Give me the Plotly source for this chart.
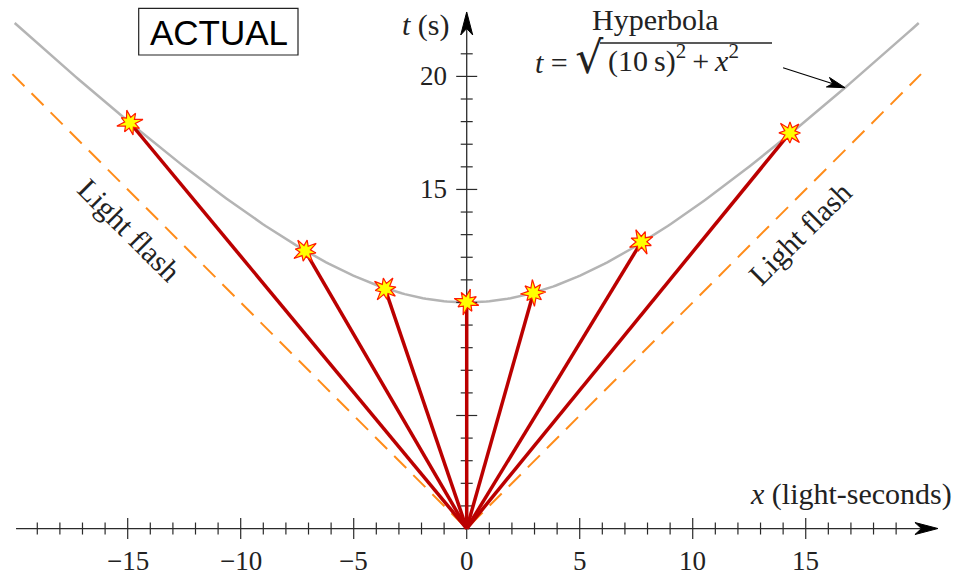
import numpy as np
import plotly.graph_objects as go

# ---------------- data ----------------
star_x = [-14.9, -7.15, -3.61, 0.0, 2.95, 7.73, 14.3]
star_t = [17.95, 12.28, 10.6, 10.02, 10.42, 12.68, 17.5]
hyp_t0 = 10.0                      # (10 s) in t = sqrt((10 s)^2 + x^2)
hyp_x_min, hyp_x_max = -20.0, 20.0
flash_x = [-20.1, 0.0, 20.1]
flash_t = [20.1, 0.0, 20.1]
x_tick_vals = list(range(-19, 20))
t_tick_vals = list(range(1, 22))
x_label_vals = [-15, -10, -5, 0, 5, 10, 15]
x_label_text = ["\u221215", "\u221210", "\u22125", "0", "5", "10", "15"]
t_label_vals = [15, 20]
t_label_text = ["15", "20"]
pointer_x = 16.74                  # where the "Hyperbola" arrow touches the curve

# ---------------- geometry helpers ----------------
W, H = 961, 576
XR = [-20.65, 21.87]
YR = [-2.10, 23.38]
PX = W / (XR[1] - XR[0])           # pixels per unit (equal in x and t)


def p(v):
    return v / PX


def arrow_head(tx, ty, dx, dy, L, Wd):
    nx, ny = -dy, dx
    pts = [(0, 0), (-L, Wd / 2), (-0.72 * L, 0), (-L, -Wd / 2), (0, 0)]
    xs = [tx + p(a * dx + b * nx) for a, b in pts]
    ys = [ty + p(a * dy + b * ny) for a, b in pts]
    return xs, ys


def px_x(v):
    return v / W


def px_y(v):
    return 1 - v / H


fig = go.Figure()
AX = "#2b2b2b"
SERIF = "Liberation Serif"
TXT = "#222222"

# light flash lines
fig.add_trace(go.Scatter(x=flash_x, y=flash_t, mode="lines",
                         line=dict(color="#ff8c1a", width=2, dash="17px,10px"),
                         hoverinfo="skip"))

# hyperbola
hx = np.linspace(hyp_x_min, hyp_x_max, 300)
ht = np.sqrt(hyp_t0 ** 2 + hx ** 2)
fig.add_trace(go.Scatter(x=hx, y=ht, mode="lines",
                         line=dict(color="#b4b4b4", width=2.5), hoverinfo="skip"))

# axes lines
x_axis_end = 20.85
t_axis_end = 22.85
fig.add_trace(go.Scatter(x=[-19.94, x_axis_end - p(16), None, 0, 0],
                         y=[0, 0, None, 0, t_axis_end - p(16)],
                         mode="lines", line=dict(color=AX, width=1.3), hoverinfo="skip"))

# ticks
tx, ty = [], []
for v in x_tick_vals:
    h = p(10.5) if v % 5 == 0 else p(6)
    tx += [v, v, None]
    ty += [-h, h, None]
for v in t_tick_vals:
    h = p(10.5) if v % 5 == 0 else p(6)
    tx += [-h, h, None]
    ty += [v, v, None]
fig.add_trace(go.Scatter(x=tx, y=ty, mode="lines",
                         line=dict(color=AX, width=1.2), hoverinfo="skip"))

# arrow heads of axes
for (hx_, hy_) in [arrow_head(x_axis_end, 0, 1, 0, 23, 12),
                   arrow_head(0, t_axis_end, 0, 1, 23, 12)]:
    fig.add_trace(go.Scatter(x=hx_, y=hy_, mode="lines", fill="toself",
                             fillcolor="black", line=dict(color="black", width=1),
                             hoverinfo="skip"))

# worldlines to the flashes
rx, ry = [], []
for sx, st in zip(star_x, star_t):
    rx += [0, sx, None]
    ry += [0, st, None]
fig.add_trace(go.Scatter(x=rx, y=ry, mode="lines",
                         line=dict(color="#bb0000", width=3.5), hoverinfo="skip"))

# starbursts
radii = [13.5, 5.6, 11.0, 5.4, 13.0, 5.8, 10.0, 5.4, 13.5, 5.6, 10.5, 5.4, 12.5, 5.7, 11.0, 5.4]
for i, (sx, st) in enumerate(zip(star_x, star_t)):
    rot = 0.25 + 0.35 * i
    n = len(radii)
    xs, ys = [], []
    for k in range(n + 1):
        a = rot + 2 * np.pi * (k % n) / n
        r = radii[k % n]
        xs.append(sx + p(r * np.cos(a)))
        ys.append(st + p(r * np.sin(a)))
    fig.add_trace(go.Scatter(x=xs, y=ys, mode="lines", fill="toself",
                             fillcolor="#ffff00", line=dict(color="#ff1a00", width=1.2),
                             hoverinfo="skip"))

# pointer arrow to hyperbola
pt = float(np.sqrt(hyp_t0 ** 2 + pointer_x ** 2))
tail = (pointer_x + p(-62), pt + p(20))
d = np.array([62.0, -20.0])
d /= np.linalg.norm(d)
fig.add_trace(go.Scatter(x=[tail[0], pointer_x - p(12 * d[0])], y=[tail[1], pt - p(12 * d[1])],
                         mode="lines", line=dict(color="black", width=1.2), hoverinfo="skip"))
ahx, ahy = arrow_head(pointer_x, pt, d[0], d[1], 18, 10)
fig.add_trace(go.Scatter(x=ahx, y=ahy, mode="lines", fill="toself", fillcolor="black",
                         line=dict(color="black", width=1), hoverinfo="skip"))

ann = []
FONT = dict(family=SERIF, size=27, color=TXT)
BIG = dict(family=SERIF, size=30, color=TXT)
for v, s in zip(x_label_vals, x_label_text):
    ann.append(dict(x=v, y=0, text=s, showarrow=False, xanchor="center", yanchor="middle",
                    yshift=-32, font=FONT))
for v, s in zip(t_label_vals, t_label_text):
    ann.append(dict(x=0, y=v, text=s, showarrow=False, xanchor="right", yanchor="middle",
                    xshift=-18, font=FONT))

ann.append(dict(x=px_x(452), y=px_y(25), xref="paper", yref="paper", text="<i>t</i> (s)",
                showarrow=False, xanchor="right", yanchor="middle", font=BIG))
ann.append(dict(x=px_x(954), y=px_y(494), xref="paper", yref="paper",
                text="<i>x</i> (light-seconds)", showarrow=False,
                xanchor="right", yanchor="middle", font=BIG))
ann.append(dict(x=px_x(655), y=px_y(19), xref="paper", yref="paper", text="Hyperbola",
                showarrow=False, xanchor="center", yanchor="middle", font=BIG))
# formula: "t = sqrt" and radicand; the vinculum of the radical drawn as a shape
ann.append(dict(x=px_x(606), y=px_y(58), xref="paper", yref="paper",
                text="<i>t</i> = <span style='font-family:DejaVu Serif;font-size:44px'>\u221a</span>",
                showarrow=False, xanchor="right", yanchor="middle", font=BIG))
ann.append(dict(x=px_x(606), y=px_y(58.5), xref="paper", yref="paper",
                text="(10\u2009s)<sup>2</sup>\u2009+\u2009<i>x</i><sup>2</sup>",
                showarrow=False, xanchor="left", yanchor="middle", font=BIG))
ann.append(dict(x=-14.9, y=13.2, text="Light flash", showarrow=False, textangle=45,
                xanchor="center", yanchor="middle", font=dict(family=SERIF, size=30, color=TXT)))
ann.append(dict(x=14.75, y=13.03, text="Light flash", showarrow=False, textangle=-45,
                xanchor="center", yanchor="middle", font=dict(family=SERIF, size=30, color=TXT)))
ann.append(dict(x=px_x(218.5), y=px_y(32), xref="paper", yref="paper", text="ACTUAL",
                showarrow=False, xanchor="center", yanchor="middle",
                font=dict(family="Liberation Sans", size=35, color="black")))

fig.update_layout(
    width=W, height=H, margin=dict(l=0, r=0, t=0, b=0),
    paper_bgcolor="white", plot_bgcolor="white", showlegend=False,
    xaxis=dict(range=XR, visible=False, fixedrange=True),
    yaxis=dict(range=YR, visible=False, fixedrange=True),
    annotations=ann,
    shapes=[dict(type="rect", xref="paper", yref="paper",
                 x0=px_x(138.7), x1=px_x(298), y0=px_y(55), y1=px_y(8.3),
                 line=dict(color="#222222", width=1.2)),
            dict(type="line", xref="paper", yref="paper",
                 x0=px_x(600), x1=px_x(772), y0=px_y(43), y1=px_y(43),
                 line=dict(color=TXT, width=1.3))],
)

fig.write_html("out.html", config={"displayModeBar": False},
               post_script="document.body.style.margin='0';document.body.style.overflow='hidden';")
